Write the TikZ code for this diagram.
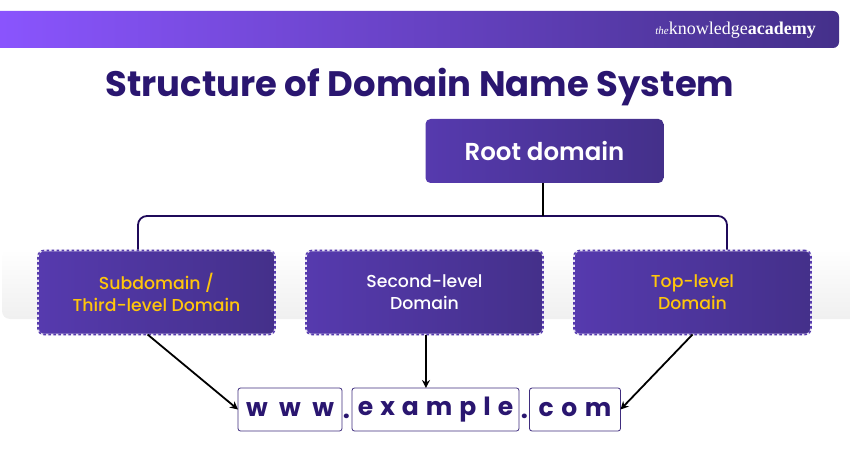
\documentclass[tikz,border=0pt]{standalone}
\usepackage{fontspec}
\setmainfont{Poppins}
\newfontfamily\semifont{Poppins SemiBold}
\newfontfamily\mediumfont{Poppins Medium}
\newfontfamily\logofont{Liberation Serif}
\usetikzlibrary{arrows.meta,positioning,calc,backgrounds}
\definecolor{inkpurple}{HTML}{2A1670}
\definecolor{bracketpurple}{HTML}{1F0A5A}
\definecolor{boxleft}{HTML}{563AAE}
\definecolor{boxright}{HTML}{44308A}
\definecolor{barleft}{HTML}{8B55FF}
\definecolor{domaingold}{HTML}{FFC60B}

\begin{document}
\begin{tikzpicture}[
    x=1pt, y=1pt,
    node distance=31pt,
    rootbox/.style={rectangle, rounded corners=5pt, left color=boxleft, right color=boxright,
                    minimum width=238pt, minimum height=64pt, outer sep=0pt,
                    text=white, font=\semifont\fontsize{24.5}{28}\selectfont},
    levelbox/.style={rectangle, rounded corners=6pt, left color=boxleft, right color=boxright,
                     postaction={draw=boxleft!15!white, line width=1.6pt},
                     postaction={draw=boxleft, line width=1.6pt, dash pattern=on 2.5pt off 2.5pt},
                     minimum width=237pt, minimum height=84pt, outer sep=0pt, align=center,
                     font=\mediumfont\fontsize{17.3}{22}\selectfont},
    partbox/.style={rectangle, rounded corners=2.5pt, draw=inkpurple!90, line width=0.8pt, fill=white,
                    minimum height=43pt, outer sep=0pt, inner sep=0pt, text=inkpurple,
                    font=\fontsize{25}{28}\selectfont\bfseries},
    partdot/.style={text=inkpurple, inner sep=0pt, font=\fontsize{25}{28}\selectfont\bfseries},
    link/.style={draw=black, line width=1.8pt, -{Stealth[length=8pt,width=8pt]}},
    >=Stealth
  ]
  \useasboundingbox (0,0) rectangle (850,450);

  %% Header bar
  \shade[left color=barleft, right color=boxright, rounded corners=6pt]
        (-12,402) rectangle (839,439);
  \node[text=white, inner sep=0pt, anchor=east] (logo) at (816,420)
        {\logofont\fontsize{18}{20}\selectfont{\itshape\fontsize{11}{12}\selectfont the}knowledge\textbf{academy}};

  %% Title
  \node[text=inkpurple, inner sep=0pt, font=\fontsize{35.4}{40}\selectfont\bfseries] (title) at (420,363)
        {Structure of Domain Name System};

  %% Bracket under the root
  \coordinate (braceleft) at (138,234);
  \coordinate (braceright) at (727,234);
  \coordinate (stem) at (543,234);

  %% Root and levels
  \node[rootbox] (root) at (544.5,299) {Root domain};
  \node[levelbox, text=domaingold] (subdomain) at (156.5,157.5) {Subdomain /\\Third-level Domain};
  \node[levelbox, text=white, right=of subdomain] (secondlevel) {Second-level\\Domain};
  \node[levelbox, text=domaingold, right=of secondlevel] (toplevel) {Top-level\\Domain};

  %% Parts of the address
  \node[partbox, minimum width=104pt] (wwwpart) at (290,40.5) {\spaceskip=11.5pt w w w};
  \node[partbox, minimum width=167pt] (examplepart) at (435.5,40.5) {\spaceskip=7pt e x a m p l e};
  \node[partbox, minimum width=91pt] (compart) at (575,40.5) {\spaceskip=7.5pt c o m};
  \node[partdot, anchor=base] (dotone) at (346.5,32) {.};
  \node[partdot, anchor=base] (dottwo) at (524.5,32) {.};

  %% Connectors
  \begin{scope}[on background layer]
    \shade[top color=white, bottom color=black!6, rounded corners=8pt]
          (2,131) rectangle (870,201);
    \draw[bracketpurple, line width=1.8pt, rounded corners=9pt]
      (subdomain.north -| braceleft) -- (braceleft) -- (braceright) -- (toplevel.north -| braceright);
  \end{scope}
  \draw[black, line width=1.8pt] (root.south -| stem) -- (stem);
  \draw[link] (subdomain.-102.6) -- (wwwpart.west);
  \draw[link] (secondlevel.-88) -- (examplepart.north -| secondlevel.-88);
  \draw[link] (toplevel.south) -- (compart.east);

\end{tikzpicture}
\end{document}
